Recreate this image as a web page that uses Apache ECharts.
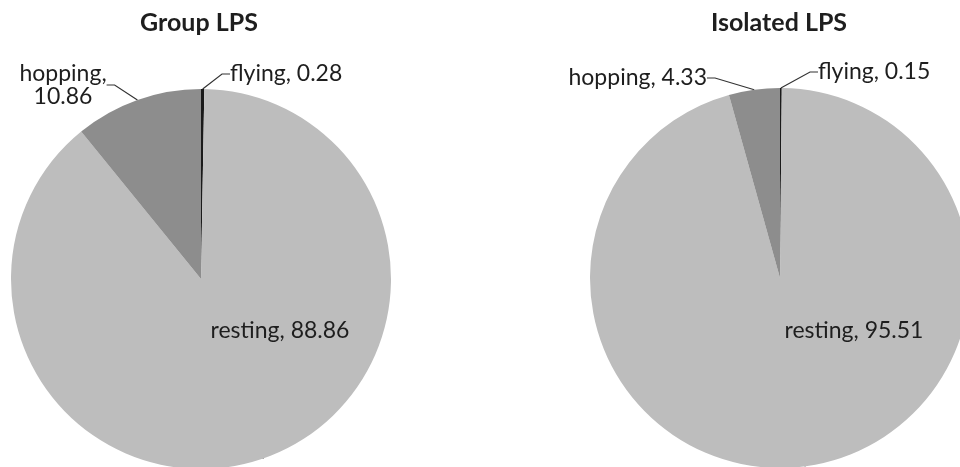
<!DOCTYPE html>
<html>
<head>
<meta charset="utf-8">
<script src="https://cdn.jsdelivr.net/npm/echarts@6/dist/echarts.min.js"></script>
<style>
  html, body { margin: 0; padding: 0; background: #ffffff; }
  #chart { width: 960px; height: 467px; }
</style>
</head>
<body>
<div id="chart"></div>
<script>
// Data
const categories = ['flying', 'resting', 'hopping'];
const groupValues = [0.28, 88.86, 10.86];
const isolatedValues = [0.15, 95.51, 4.33];
const chartTitles = ['Group LPS', 'Isolated LPS'];
const sliceColors = { flying: '#1a1a1a', resting: '#bdbdbd', hopping: '#8d8d8d' };

const FONT = 'Lato, "Open Sans", sans-serif';
const TEXT = '#1e1e1e';

function buildData(values) {
  return categories.map((c, i) => ({
    name: c,
    value: values[i],
    itemStyle: { color: sliceColors[c] }
  }));
}

// label placements (layout only)
const leftLabelPos = {
  hopping: { x: 63, y: 85, align: 'center' },
  flying: { x: 230, y: 74, align: 'left' },
  resting: { x: 280, y: 331, align: 'center' }
};
const rightLabelPos = {
  hopping: { x: 707, y: 78, align: 'right' },
  flying: { x: 818, y: 72, align: 'left' },
  resting: { x: 854, y: 331, align: 'center' }
};

function makeSeries(values, center, posMap, twoLineHopping) {
  return {
    type: 'pie',
    center: center,
    radius: 190,
    startAngle: 90,
    clockwise: true,
    animation: false,
    silent: true,
    minAngle: 0,
    avoidLabelOverlap: false,
    data: buildData(values),
    label: {
      show: true,
      position: 'outside',
      fontFamily: FONT,
      fontSize: 23,
      color: TEXT,
      lineHeight: 23,
      formatter: function (p) {
        if (p.name === 'hopping' && twoLineHopping) return p.name + ',\n' + p.value.toFixed(2);
        return p.name + ', ' + p.value.toFixed(2);
      }
    },
    labelLine: {
      show: true,
      length: 10,
      length2: 8,
      lineStyle: { color: '#333333', width: 1.2 }
    },
    labelLayout: function (params) {
      const name = categories[params.dataIndex];
      const p = posMap[name];
      return { x: p.x, y: p.y, align: p.align, verticalAlign: 'middle', hideOverlap: false };
    }
  };
}

const chart = echarts.init(document.getElementById('chart'), null, { renderer: 'canvas' });
chart.setOption({
  backgroundColor: '#ffffff',
  animation: false,
  graphic: [
    { type: 'text', x: 199, y: 23, silent: true,
      style: { text: chartTitles[0], align: 'center', verticalAlign: 'middle',
               font: 'bold 25px ' + FONT, fill: TEXT } },
    { type: 'text', x: 779, y: 23, silent: true,
      style: { text: chartTitles[1], align: 'center', verticalAlign: 'middle',
               font: 'bold 25px ' + FONT, fill: TEXT } }
  ],
  series: [
    makeSeries(groupValues, [201, 279], leftLabelPos, true),
    makeSeries(isolatedValues, [780, 278], rightLabelPos, false)
  ]
});
</script>
</body>
</html>
